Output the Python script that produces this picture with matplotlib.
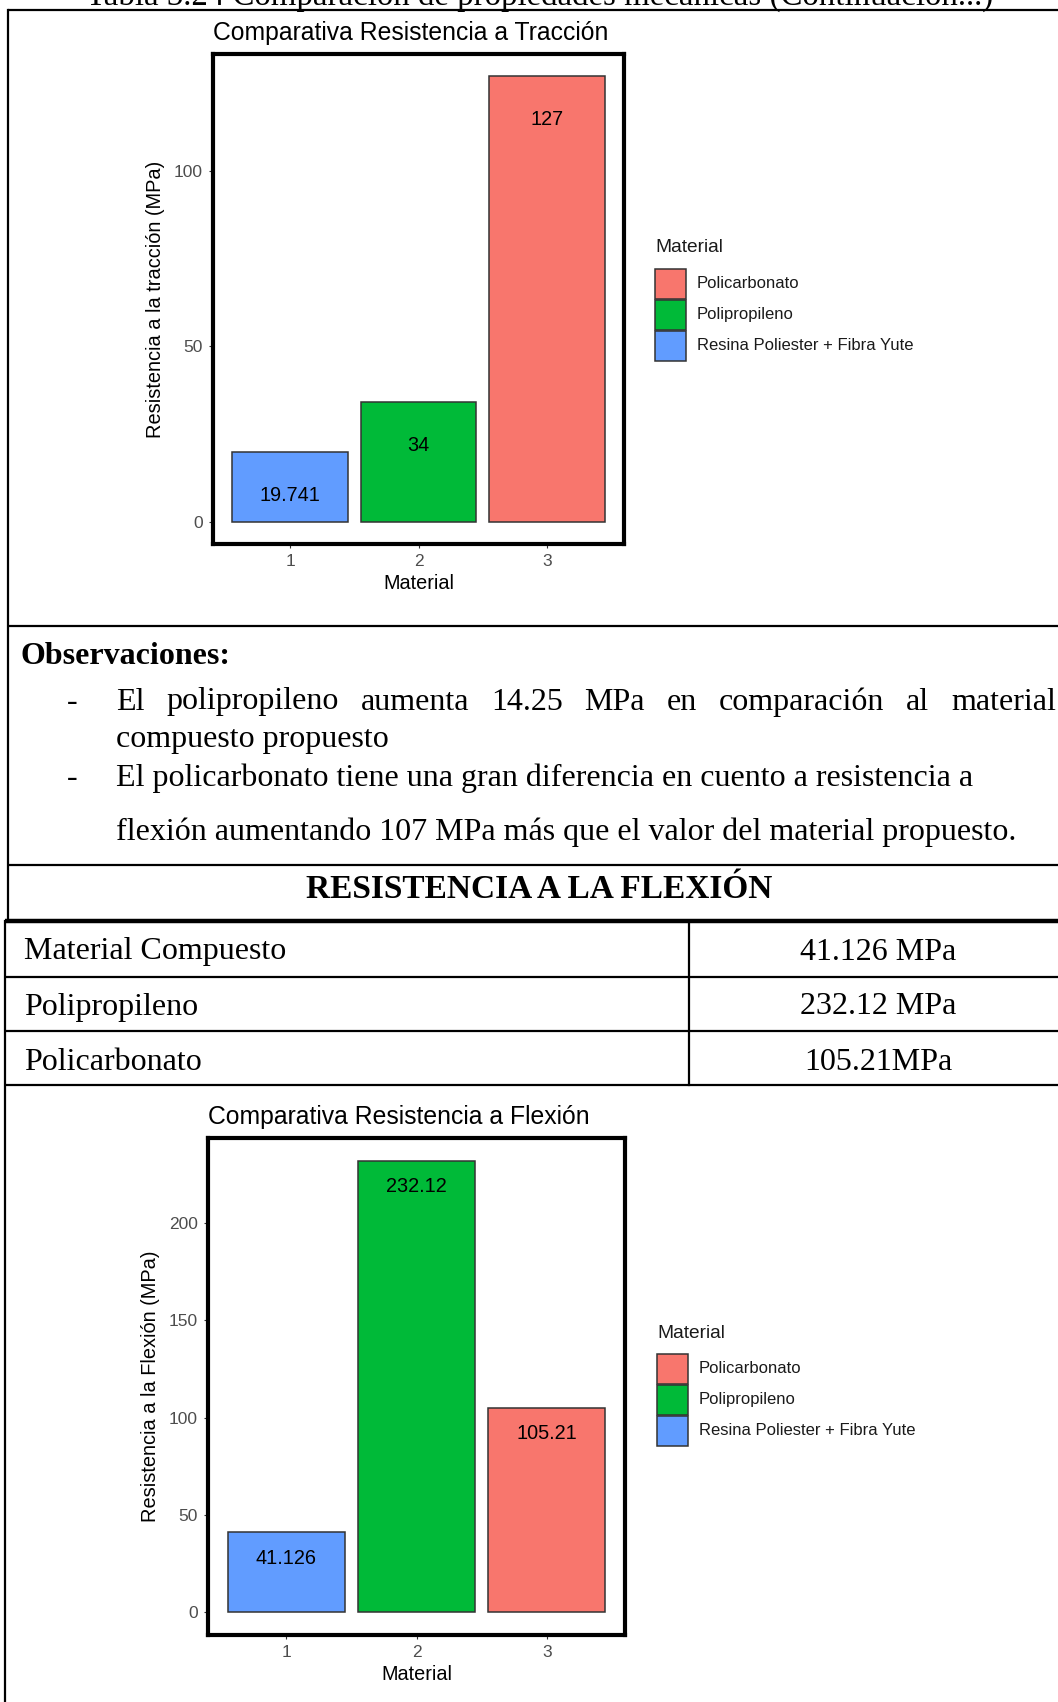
import matplotlib
matplotlib.use("Agg")
import matplotlib.pyplot as plt
from matplotlib.patches import Rectangle

W, H, DPI = 1058, 1702, 100
SERIF = "Liberation Serif"
SANS = "Liberation Sans"

# ---- data ----
caption = "Tabla 3.24 Comparación de propiedades mecánicas (Continuación...)"
material_ids = [1, 2, 3]
material_names = ["Resina Poliester + Fibra Yute", "Polipropileno", "Policarbonato"]
legend_order = ["Policarbonato", "Polipropileno", "Resina Poliester + Fibra Yute"]
fill_colors = {"Policarbonato": "#F8766D",
               "Polipropileno": "#00BA38",
               "Resina Poliester + Fibra Yute": "#619CFF"}
traccion = [19.741, 34, 127]
flexion = [41.126, 232.12, 105.21]
traccion_ticks = [0, 50, 100]
flexion_ticks = [0, 50, 100, 150, 200]

obs_title = "Observaciones:"
obs_1 = ["El polipropileno aumenta 14.25 MPa en comparación al material",
         "compuesto propuesto"]
obs_2 = ["El policarbonato tiene una gran diferencia en cuento a resistencia a",
         "flexión aumentando 107 MPa más que el valor del material propuesto."]
section_title = "RESISTENCIA A LA FLEXIÓN"
row_labels = ["Material Compuesto", "Polipropileno", "Policarbonato"]
row_values = ["41.126 MPa", "232.12 MPa", "105.21MPa"]


def px_axes(fig, x0, y0, x1, y1, **kw):
    # pixel box (top-left origin) -> figure fraction
    return fig.add_axes([x0 / W, 1 - y1 / H, (x1 - x0) / W, (y1 - y0) / H], **kw)


def bar_chart(fig, box, values, yticks, title, ylabel, label_offset):
    ax = px_axes(fig, *box)
    cols = [fill_colors[m] for m in material_names]
    ax.bar(material_ids, values, width=0.9, color=cols, edgecolor="#333333", linewidth=1.1)
    pad = 0.05 * max(values)
    ax.set_ylim(-pad, max(values) + pad)
    ax.set_xlim(0.4, 3.6)
    ax.set_xticks(material_ids)
    ax.set_yticks(yticks)
    for x, v in zip(material_ids, values):
        ax.annotate(f"{v:g}", (x, v), xytext=(0, -label_offset), textcoords="offset points",
                    ha="center", va="center", fontsize=14.3, family=SANS, color="black")
    for s in ax.spines.values():
        s.set_linewidth(3)
        s.set_color("black")
    ax.tick_params(length=3, width=0.8, color="#333333", labelsize=12.5,
                   labelcolor="#4D4D4D", pad=4.5)
    for lab in ax.get_xticklabels() + ax.get_yticklabels():
        lab.set_family(SANS)
    ax.set_title(title, loc="left", fontsize=17.8, family=SANS, pad=10)
    ax.set_xlabel("Material", fontsize=14.3, family=SANS, labelpad=3)
    ax.set_ylabel(ylabel, fontsize=14.4, family=SANS, labelpad=6)
    return ax


def draw_legend(bg, x, y_title, y_first, key_w, key_h, gap):
    bg.text(x, y_title, "Material", fontsize=13.8, family=SANS, va="center", ha="left",
            color="#1A1A1A")
    for i, name in enumerate(legend_order):
        y0 = y_first + i * (key_h + gap)
        bg.add_patch(Rectangle((x, y0), key_w, key_h, facecolor=fill_colors[name],
                               edgecolor="#333333", linewidth=1.1))
        bg.text(x + key_w + 11, y0 + key_h / 2, name, fontsize=12, family=SANS,
                va="center", ha="left", color="#1A1A1A")


def justified(bg, fig, line, x0, x1, y, **kw):
    words = line.split()
    items = [bg.text(0, y, w, va="center", ha="left", **kw) for w in words]
    fig.canvas.draw()
    r = fig.canvas.get_renderer()
    widths = [t.get_window_extent(r).width for t in items]
    gap = (x1 - x0 - sum(widths)) / (len(words) - 1)
    xpos = x0
    for t, w in zip(items, widths):
        t.set_x(xpos)
        xpos += w + gap


fig = plt.figure(figsize=(W / DPI, H / DPI), dpi=DPI)
bg = fig.add_axes([0, 0, 1, 1], zorder=0)
bg.set_xlim(0, W)
bg.set_ylim(H, 0)
bg.axis("off")

doc = dict(family=SERIF, fontsize=23, color="black")

# caption of the page, cut at the very top as in the scan
bg.text(540, 5, caption, ha="center", va="baseline", family=SERIF, fontsize=23.7)

# table lines
thin, thick = 1.6, 3.2
for y, xa, lw in [(10, 8, thin), (626, 8, thin), (865, 8, thin), (921, 5, thick),
                  (977, 5, thin), (1031, 5, thin), (1085, 5, thin)]:
    bg.plot([xa, W], [y, y], color="black", lw=lw, solid_capstyle="butt")
bg.plot([8, 8], [10, 921], color="black", lw=thin)
bg.plot([5, 5], [921, H], color="black", lw=thin)
bg.plot([689, 689], [921, 1085], color="black", lw=thin)

# observations
bg.text(20, 657, obs_title, ha="left", va="center", fontweight="bold", **doc)
bg.text(72, 702, "-", ha="center", va="center", **doc)
bg.text(72, 778, "-", ha="center", va="center", **doc)
justified(bg, fig, obs_1[0], 116, 1056, 702, **doc)
bg.text(116, 739, obs_1[1], ha="left", va="center", **doc)
bg.text(116, 778, obs_2[0], ha="left", va="center", **doc)
bg.text(116, 832, obs_2[1], ha="left", va="center", **doc)

bg.text(539, 889, section_title, ha="center", va="center", fontweight="bold",
        family=SERIF, fontsize=24)
for i, (lab, val) in enumerate(zip(row_labels, row_values)):
    y = 952 + i * 55
    bg.text(24, y, lab, ha="left", va="center", **doc)
    bg.text(878, y, val, ha="center", va="center", **doc)

# charts
bar_chart(fig, (213, 54, 624, 544), traccion, traccion_ticks,
          "Comparativa Resistencia a Tracción", "Resistencia a la tracción (MPa)", 31)
draw_legend(bg, 655, 248, 269, 31, 29.5, 1.5)

bar_chart(fig, (208, 1138, 625, 1635), flexion, flexion_ticks,
          "Comparativa Resistencia a Flexión", "Resistencia a la Flexión (MPa)", 18.7)
draw_legend(bg, 657, 1334, 1354, 31, 29.5, 1.5)

fig.savefig("out.png", dpi=DPI)
